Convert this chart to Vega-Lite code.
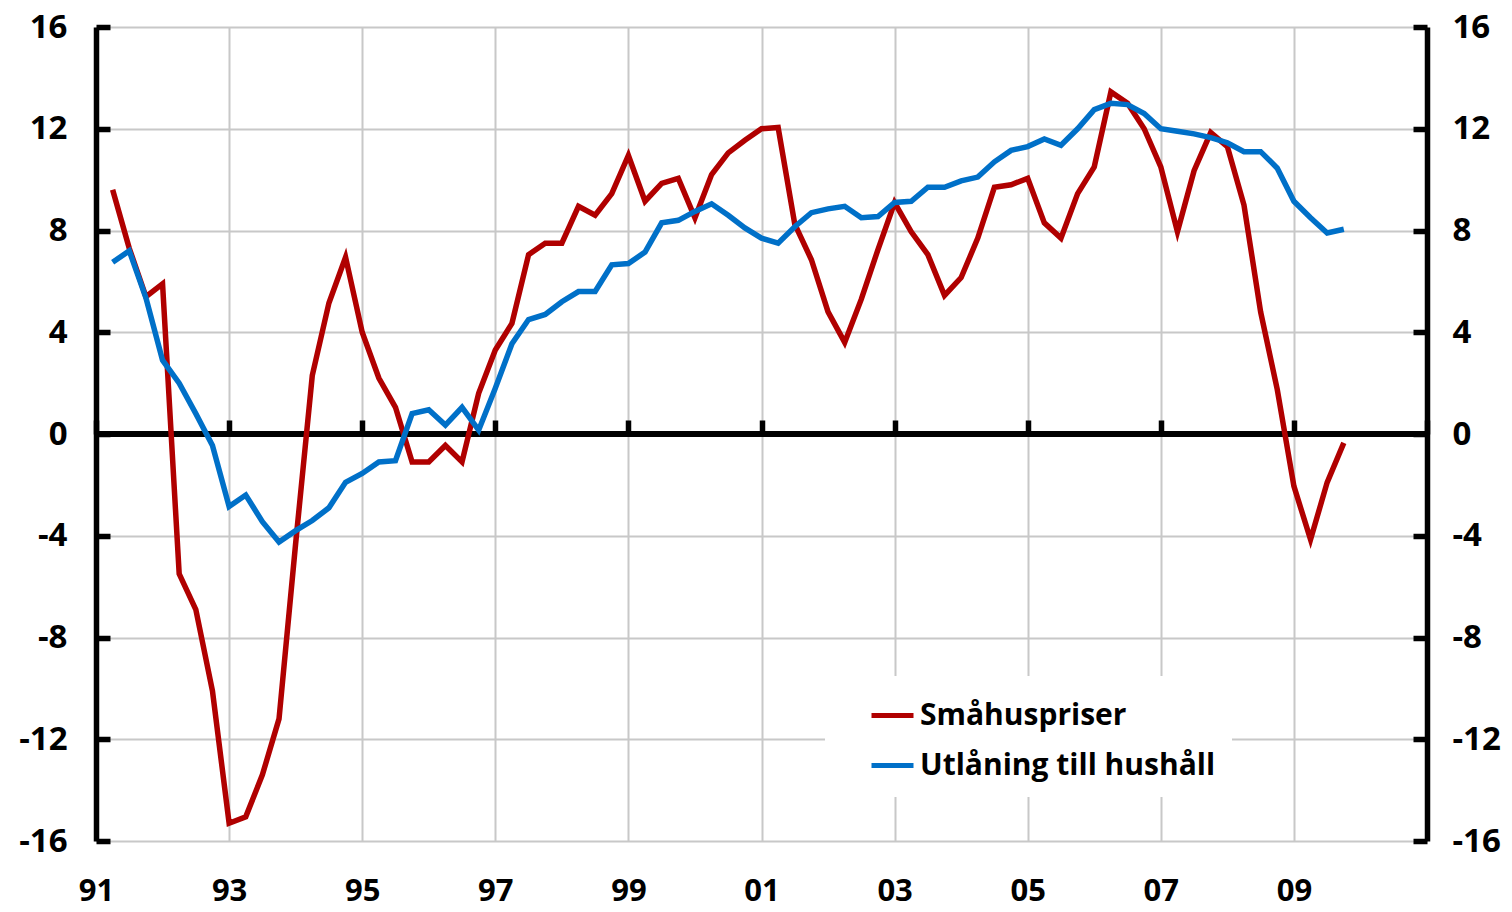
{
  "$schema": "https://vega.github.io/schema/vega-lite/v6.json",
  "width": 1331,
  "height": 814,
  "autosize": {"type": "none"},
  "padding": {"left": 96, "top": 27, "right": 85, "bottom": 71},
  "background": "white",
  "config": {"view": {"stroke": null}, "font": "Open Sans"},
  "data": {"values": [
    {"t": 1991.25, "Småhuspriser": 9.6, "Utlåning till hushåll": 6.75},
    {"t": 1991.5, "Småhuspriser": 7.3, "Utlåning till hushåll": 7.2},
    {"t": 1991.75, "Småhuspriser": 5.4, "Utlåning till hushåll": 5.35},
    {"t": 1992.0, "Småhuspriser": 5.9, "Utlåning till hushåll": 2.9},
    {"t": 1992.25, "Småhuspriser": -5.5, "Utlåning till hushåll": 2.0},
    {"t": 1992.5, "Småhuspriser": -6.9, "Utlåning till hushåll": 0.8},
    {"t": 1992.75, "Småhuspriser": -10.1, "Utlåning till hushåll": -0.45},
    {"t": 1993.0, "Småhuspriser": -15.3, "Utlåning till hushåll": -2.85},
    {"t": 1993.25, "Småhuspriser": -15.05, "Utlåning till hushåll": -2.4},
    {"t": 1993.5, "Småhuspriser": -13.4, "Utlåning till hushåll": -3.45},
    {"t": 1993.75, "Småhuspriser": -11.2, "Utlåning till hushåll": -4.25},
    {"t": 1994.0, "Småhuspriser": -4.3, "Utlåning till hushåll": -3.8},
    {"t": 1994.25, "Småhuspriser": 2.3, "Utlåning till hushåll": -3.4},
    {"t": 1994.5, "Småhuspriser": 5.15, "Utlåning till hushåll": -2.9},
    {"t": 1994.75, "Småhuspriser": 6.95, "Utlåning till hushåll": -1.9},
    {"t": 1995.0, "Småhuspriser": 4.0, "Utlåning till hushåll": -1.55},
    {"t": 1995.25, "Småhuspriser": 2.2, "Utlåning till hushåll": -1.1},
    {"t": 1995.5, "Småhuspriser": 1.05, "Utlåning till hushåll": -1.05},
    {"t": 1995.75, "Småhuspriser": -1.1, "Utlåning till hushåll": 0.8},
    {"t": 1996.0, "Småhuspriser": -1.1, "Utlåning till hushåll": 0.95},
    {"t": 1996.25, "Småhuspriser": -0.45, "Utlåning till hushåll": 0.35},
    {"t": 1996.5, "Småhuspriser": -1.1, "Utlåning till hushåll": 1.05},
    {"t": 1996.75, "Småhuspriser": 1.6, "Utlåning till hushåll": 0.15},
    {"t": 1997.0, "Småhuspriser": 3.3, "Utlåning till hushåll": 1.8},
    {"t": 1997.25, "Småhuspriser": 4.35, "Utlåning till hushåll": 3.55},
    {"t": 1997.5, "Småhuspriser": 7.05, "Utlåning till hushåll": 4.5},
    {"t": 1997.75, "Småhuspriser": 7.5, "Utlåning till hushåll": 4.7},
    {"t": 1998.0, "Småhuspriser": 7.5, "Utlåning till hushåll": 5.2},
    {"t": 1998.25, "Småhuspriser": 8.95, "Utlåning till hushåll": 5.6},
    {"t": 1998.5, "Småhuspriser": 8.6, "Utlåning till hushåll": 5.6},
    {"t": 1998.75, "Småhuspriser": 9.45, "Utlåning till hushåll": 6.65},
    {"t": 1999.0, "Småhuspriser": 10.95, "Utlåning till hushåll": 6.7},
    {"t": 1999.25, "Småhuspriser": 9.15, "Utlåning till hushåll": 7.15},
    {"t": 1999.5, "Småhuspriser": 9.85, "Utlåning till hushåll": 8.3},
    {"t": 1999.75, "Småhuspriser": 10.05, "Utlåning till hushåll": 8.4},
    {"t": 2000.0, "Småhuspriser": 8.5, "Utlåning till hushåll": 8.75},
    {"t": 2000.25, "Småhuspriser": 10.2, "Utlåning till hushåll": 9.05},
    {"t": 2000.5, "Småhuspriser": 11.05, "Utlåning till hushåll": 8.6},
    {"t": 2000.75, "Småhuspriser": 11.55, "Utlåning till hushåll": 8.1},
    {"t": 2001.0, "Småhuspriser": 12.0, "Utlåning till hushåll": 7.7},
    {"t": 2001.25, "Småhuspriser": 12.05, "Utlåning till hushåll": 7.5},
    {"t": 2001.5, "Småhuspriser": 8.25, "Utlåning till hushåll": 8.15},
    {"t": 2001.75, "Småhuspriser": 6.85, "Utlåning till hushåll": 8.7},
    {"t": 2002.0, "Småhuspriser": 4.8, "Utlåning till hushåll": 8.85},
    {"t": 2002.25, "Småhuspriser": 3.6, "Utlåning till hushåll": 8.95},
    {"t": 2002.5, "Småhuspriser": 5.3, "Utlåning till hushåll": 8.5},
    {"t": 2002.75, "Småhuspriser": 7.25, "Utlåning till hushåll": 8.55},
    {"t": 2003.0, "Småhuspriser": 9.1, "Utlåning till hushåll": 9.1},
    {"t": 2003.25, "Småhuspriser": 7.95, "Utlåning till hushåll": 9.15},
    {"t": 2003.5, "Småhuspriser": 7.05, "Utlåning till hushåll": 9.7},
    {"t": 2003.75, "Småhuspriser": 5.45, "Utlåning till hushåll": 9.7},
    {"t": 2004.0, "Småhuspriser": 6.15, "Utlåning till hushåll": 9.95},
    {"t": 2004.25, "Småhuspriser": 7.7, "Utlåning till hushåll": 10.1},
    {"t": 2004.5, "Småhuspriser": 9.7, "Utlåning till hushåll": 10.7},
    {"t": 2004.75, "Småhuspriser": 9.8, "Utlåning till hushåll": 11.15},
    {"t": 2005.0, "Småhuspriser": 10.05, "Utlåning till hushåll": 11.3},
    {"t": 2005.25, "Småhuspriser": 8.3, "Utlåning till hushåll": 11.6},
    {"t": 2005.5, "Småhuspriser": 7.7, "Utlåning till hushåll": 11.35},
    {"t": 2005.75, "Småhuspriser": 9.45, "Utlåning till hushåll": 12.0},
    {"t": 2006.0, "Småhuspriser": 10.5, "Utlåning till hushåll": 12.75},
    {"t": 2006.25, "Småhuspriser": 13.45, "Utlåning till hushåll": 13.0},
    {"t": 2006.5, "Småhuspriser": 13.0, "Utlåning till hushåll": 12.95},
    {"t": 2006.75, "Småhuspriser": 12.0, "Utlåning till hushåll": 12.6},
    {"t": 2007.0, "Småhuspriser": 10.5, "Utlåning till hushåll": 12.0},
    {"t": 2007.25, "Småhuspriser": 7.95, "Utlåning till hushåll": 11.9},
    {"t": 2007.5, "Småhuspriser": 10.35, "Utlåning till hushåll": 11.8},
    {"t": 2007.75, "Småhuspriser": 11.85, "Utlåning till hushåll": 11.65},
    {"t": 2008.0, "Småhuspriser": 11.3, "Utlåning till hushåll": 11.45},
    {"t": 2008.25, "Småhuspriser": 9.0, "Utlåning till hushåll": 11.1},
    {"t": 2008.5, "Småhuspriser": 4.8, "Utlåning till hushåll": 11.1},
    {"t": 2008.75, "Småhuspriser": 1.75, "Utlåning till hushåll": 10.45},
    {"t": 2009.0, "Småhuspriser": -2.05, "Utlåning till hushåll": 9.15},
    {"t": 2009.25, "Småhuspriser": -4.15, "Utlåning till hushåll": 8.5},
    {"t": 2009.5, "Småhuspriser": -1.9, "Utlåning till hushåll": 7.9},
    {"t": 2009.75, "Småhuspriser": -0.35, "Utlåning till hushåll": 8.05}
  ]},
  "transform": [{"fold": ["Småhuspriser", "Utlåning till hushåll"], "as": ["serie", "v"]}],
  "layer": [
    {
      "mark": {"type": "rule", "color": "black", "strokeWidth": 5.5},
      "encoding": {
        "y": {"datum": 0, "type": "quantitative", "scale": {"domain": [-16, 16], "nice": false}, "axis": null}
      }
    },
    {
      "mark": {"type": "line", "opacity": 0},
      "encoding": {
        "x": {
          "field": "t", "type": "quantitative",
          "scale": {"domain": [1991, 2011], "nice": false, "zero": false},
          "axis": {
            "orient": "bottom", "offset": -407,
            "values": [1991, 1993, 1995, 1997, 1999, 2001, 2003, 2005, 2007, 2009, 2011],
            "labels": false, "grid": false, "domain": false,
            "ticks": true, "tickSize": -14, "tickWidth": 5.5, "tickColor": "black",
            "title": null, "zindex": 0
          }
        },
        "y": {
          "field": "v", "type": "quantitative",
          "scale": {"domain": [-16, 16], "nice": false},
          "axis": {
            "orient": "right",
            "values": [-16, -12, -8, -4, 0, 4, 8, 12, 16],
            "grid": false, "domain": true, "domainColor": "black", "domainWidth": 5.5,
            "ticks": true, "tickSize": -14, "tickWidth": 5.5, "tickColor": "black",
            "labelPadding": 39, "labelFont": "Open Sans", "labelFontWeight": "bold",
            "labelFontSize": 33, "labelColor": "black", "labelAlign": "left", "labelBaseline": "middle",
            "labelExpr": "toString(datum.value)",
            "title": null, "zindex": 1
          }
        },
        "detail": {"field": "serie"}
      }
    },
    {
      "mark": {"type": "line", "strokeWidth": 5.5},
      "encoding": {
        "x": {
          "field": "t", "type": "quantitative",
          "scale": {"domain": [1991, 2011], "nice": false, "zero": false},
          "axis": {
            "orient": "bottom",
            "values": [1991, 1993, 1995, 1997, 1999, 2001, 2003, 2005, 2007, 2009],
            "grid": true, "gridColor": "#c8c8c8", "gridWidth": 2,
            "domain": false, "ticks": false,
            "labelPadding": 50, "labelExpr": "substring(toString(datum.value), 2)",
            "labelFont": "Open Sans", "labelFontWeight": "bold", "labelFontSize": 31,
            "labelColor": "black", "labelBaseline": "middle", "labelFlush": false,
            "title": null, "zindex": 0
          }
        },
        "y": {
          "field": "v", "type": "quantitative",
          "scale": {"domain": [-16, 16], "nice": false},
          "axis": {
            "orient": "left",
            "values": [-16, -12, -8, -4, 0, 4, 8, 12, 16],
            "grid": true, "gridColor": "#c8c8c8", "gridWidth": 2,
            "domain": true, "domainColor": "black", "domainWidth": 5.5,
            "ticks": true, "tickSize": -14, "tickWidth": 5.5, "tickColor": "black",
            "labelPadding": 43, "labelFont": "Open Sans", "labelFontWeight": "bold",
            "labelFontSize": 33, "labelColor": "black", "labelAlign": "right", "labelBaseline": "middle",
            "labelExpr": "toString(datum.value)",
            "title": null, "zindex": 0
          }
        },
        "color": {
          "field": "serie", "type": "nominal",
          "scale": {"domain": ["Småhuspriser", "Utlåning till hushåll"], "range": ["#b00000", "#0070c8"]},
          "legend": {
            "orient": "none", "legendX": 729, "legendY": 649, "title": null,
            "symbolType": "stroke", "symbolSize": 1764, "symbolStrokeWidth": 5,
            "labelFont": "Open Sans", "labelFontWeight": "bold", "labelFontSize": 30,
            "labelColor": "black", "labelOffset": 4, "labelLimit": 0,
            "fillColor": "white", "padding": 16, "symbolOffset": 28, "rowPadding": 11
          }
        }
      }
    }
  ],
  "resolve": {"axis": {"x": "independent", "y": "independent"}}
}
